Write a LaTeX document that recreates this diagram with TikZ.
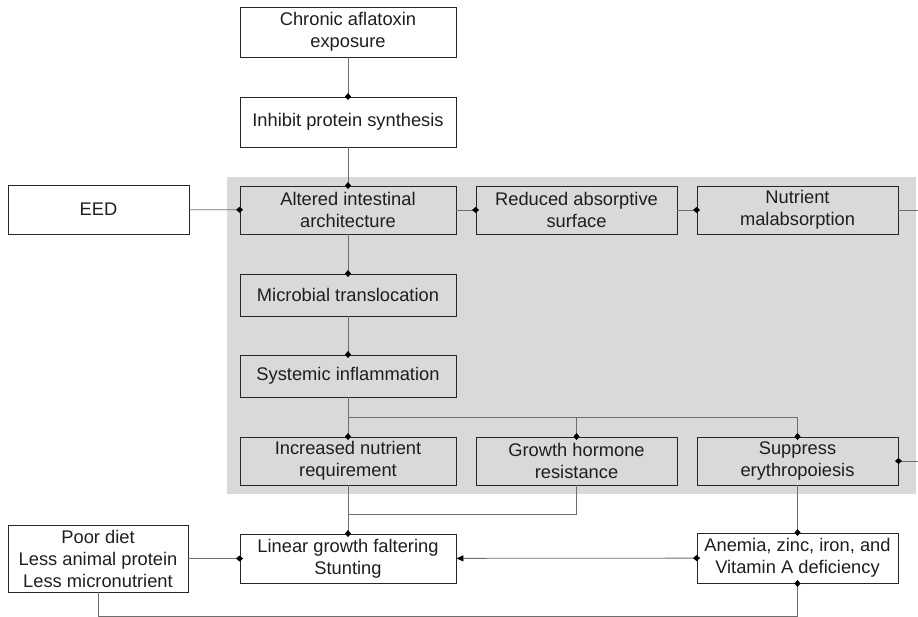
\documentclass[tikz,border=0pt]{standalone}
\usepackage{fontspec}
\setmainfont{Liberation Sans}
\usetikzlibrary{arrows.meta}
\definecolor{panelgray}{HTML}{D9D9D9}
\definecolor{linkgray}{HTML}{6E6E6E}
\definecolor{textgray}{HTML}{1E1E1E}
\tikzset{
	box/.style={draw=black!85, line width=0.9pt, align=center, inner sep=0pt, text=textgray,
		font=\fontsize{18.3}{22}\selectfont},
	wide/.style={box, minimum width=216pt},
	narrow/.style={box, minimum width=201pt},
	dot/.tip={Diamond[length=7pt,width=6pt,color=black,fill=black]},
	link/.style={draw=linkgray, line width=0.8pt, -dot, shorten >=-3.5pt},
	plain/.style={draw=linkgray, line width=0.8pt}
}

\begin{document}
\begin{tikzpicture}[x=1pt, y=-1pt]
			%%%%% START %%%%%
			
			\useasboundingbox (0, 0) rectangle (918, 617);
			\fill[panelgray] (227, 177) rectangle (916, 494);
			
			\node[wide, minimum height=50pt] (chronic) at (348, 32) {Chronic aflatoxin\\exposure};
			\node[wide, minimum height=50pt] (inhibit) at (348, 122) {Inhibit protein synthesis};
			
			\node[wide, minimum height=48pt] (altered) at (348, 210) {Altered intestinal\\architecture};
			\node[narrow, minimum height=48pt] (reduced) at (576.5, 210) {Reduced absorptive\\surface};
			\node[narrow, minimum height=48pt] (malabs) at (797.5, 210) {Nutrient\\malabsorption};
			\node[box, minimum width=181pt, minimum height=49pt] (eed) at (98.5, 209.5) {EED};
			
			\node[wide, minimum height=42pt] (microbial) at (348, 295) {Microbial translocation};
			\node[wide, minimum height=42pt] (systemic) at (348, 376) {Systemic inflammation};
			
			\node[wide, minimum height=48pt] (increased) at (348, 461) {Increased nutrient\\requirement};
			\node[narrow, minimum height=48pt] (hormone) at (576.5, 461) {Growth hormone\\resistance};
			\node[narrow, minimum height=48pt] (suppress) at (797.5, 461) {Suppress\\erythropoiesis};
			
			\node[wide, minimum height=49pt] (faltering) at (348, 558.5) {Linear growth faltering\\Stunting};
			\node[narrow, minimum height=50pt] (anemia) at (797.5, 558) {Anemia, zinc, iron, and\\Vitamin A deficiency};
			\node[box, minimum width=180pt, minimum height=67pt] (diet) at (98, 558.5) {Poor diet\\Less animal protein\\Less micronutrient};
			
			\coordinate (branch) at (348, 417);
			\coordinate (joint) at (348, 514);
			\coordinate (edgetop) at (918, 210);
			\coordinate (edgelow) at (918, 461);
			
			\draw[link] (chronic) -- (inhibit);
			\draw[link] (inhibit) -- (altered);
			\draw[link] (eed) -- (altered);
			\draw[link] (altered) -- (reduced);
			\draw[link] (reduced) -- (malabs);
			\draw[plain] (malabs) -- (edgetop);
			\draw[link] (altered) -- (microbial);
			\draw[link] (microbial) -- (systemic);
			
			\draw[link] (systemic) -- (increased);
			\draw[link] (branch) -| (hormone.north);
			\draw[link] (branch) -| (suppress.north);
			\draw[link] (edgelow) -- (suppress);
			
			\draw[link] (increased) -- (faltering);
			\draw[plain] (hormone.south) |- (joint);
			\draw[link] (suppress) -- (anemia);
			\draw[link] (diet.east |- faltering) -- (faltering);
			\draw[plain, dot-{Triangle[length=7pt,width=6pt,color=black,fill=black]}, shorten <=-3.5pt] (anemia) -- (faltering);
			\draw[link] (diet.south) -- ++(0, 24) -| (anemia.south);
			
			%%%%% END %%%%%
		\end{tikzpicture}
\end{document}
